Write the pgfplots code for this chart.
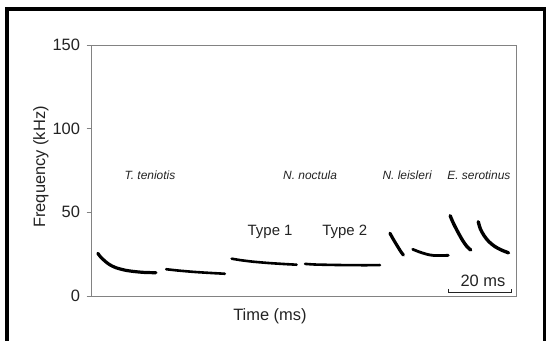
\documentclass[border=0pt]{standalone}
\usepackage{pgfplots}
\pgfplotsset{compat=1.18}
\usepackage{fontspec}
\setmainfont{Liberation Sans}
\definecolor{axgray}{RGB}{130,130,130}
\definecolor{txt}{RGB}{35,35,35}

\begin{document}
\begin{tikzpicture}
\useasboundingbox (0,0) rectangle (547bp,341bp);
\fill[white] (0,0) rectangle (547bp,341bp);
\draw[black, line width=3.5bp] (7bp,-10bp) -- (7bp,332bp) -- (544.7bp,332bp) -- (544.7bp,-10bp);
\begin{axis}[
 at={(91bp,45bp)}, anchor=south west, scale only axis, width=425bp, height=251bp,
 xmin=0, xmax=136.2, ymin=0, ymax=150,
 xtick=\empty, ytick={0,50,100,150},
 axis line style={axgray, line width=0.9bp},
 ytick style={axgray, line width=0.9bp},
 tick align=outside, ytick pos=left, major tick length=4.5bp,
 /pgf/number format/assume math mode=true,
 ticklabel style={font=\fontsize{16.5}{19}\selectfont, text=txt},
 yticklabel style={xshift=-3bp},
 label style={font=\fontsize{16.5}{19}\selectfont, text=txt},
 xlabel={Time (ms)}, ylabel={Frequency (kHz)},
 xlabel style={at={(axis description cs:0.421,-0.08)}, anchor=center},
 ylabel style={at={(axis description cs:-0.118,0.514)}, anchor=center},
 clip=false,
]
% T. teniotis
\addplot[black, line width=3.2bp, line cap=round, line join=round, smooth] coordinates {
(2.2,25.5) (3,23.5) (4.5,20.8) (6,18.7) (8,16.9) (11,15.4) (14,14.6) (17,14.1) (20.8,13.9)};
\addplot[black, line width=2.6bp, line cap=round, line join=round, smooth] coordinates {
(24.1,16.0) (28,15.2) (33,14.4) (38,13.8) (42.9,13.3)};
% N. noctula type 1
\addplot[black, line width=2.6bp, line cap=round, line join=round, smooth] coordinates {
(45.1,22.3) (48,21.4) (52,20.5) (57,19.7) (62,19.1) (65.9,18.7)};
% N. noctula type 2
\addplot[black, line width=2.6bp, line cap=round, line join=round, smooth] coordinates {
(68.6,19.2) (72,18.8) (80,18.5) (88,18.4) (92.6,18.5)};
% N. leisleri
\addplot[black, line width=3.2bp, line cap=round, line join=round, smooth] coordinates {
(95.8,37.5) (97,33.5) (98.3,29.5) (99.3,26.5) (100.1,24.5)};
\addplot[black, line width=2.8bp, line cap=round, line join=round, smooth] coordinates {
(103.1,27.9) (105,26.5) (107.5,25.0) (110,24.2) (114.5,24.3)};
% E. serotinus
\addplot[black, line width=3.4bp, line cap=round, line join=round, smooth] coordinates {
(115.1,48.0) (116,44) (117.5,38.5) (119,33.5) (120.5,29.5) (121.7,27.5)};
\addplot[black, line width=3.4bp, line cap=round, line join=round, smooth] coordinates {
(124.1,44.4) (124.8,40) (126,36) (127.5,32.5) (129.5,29.5) (131.5,27.5) (133.8,25.8)};
% scale bar
\addplot[txt, line width=0.9bp] coordinates {(114.7,4.2) (114.7,2.2) (134.7,2.2) (134.7,4.2)};
\node[font=\fontsize{16.5}{19}\selectfont, text=txt] at (axis cs:125.6,9.0) {20 ms};
% labels
\node[font=\fontsize{12}{14}\selectfont\itshape, text=txt] at (axis cs:18.9,72.3) {T. teniotis};
\node[font=\fontsize{12}{14}\selectfont\itshape, text=txt] at (axis cs:70.2,72.3) {N. noctula};
\node[font=\fontsize{12}{14}\selectfont\itshape, text=txt] at (axis cs:101.3,72.3) {N. leisleri};
\node[font=\fontsize{12}{14}\selectfont\itshape, text=txt] at (axis cs:124.3,72.3) {E. serotinus};
\node[font=\fontsize{15}{18}\selectfont, text=txt] at (axis cs:57.4,38.4) {Type 1};
\node[font=\fontsize{15}{18}\selectfont, text=txt] at (axis cs:81.3,38.4) {Type 2};
\end{axis}
\end{tikzpicture}
\end{document}
